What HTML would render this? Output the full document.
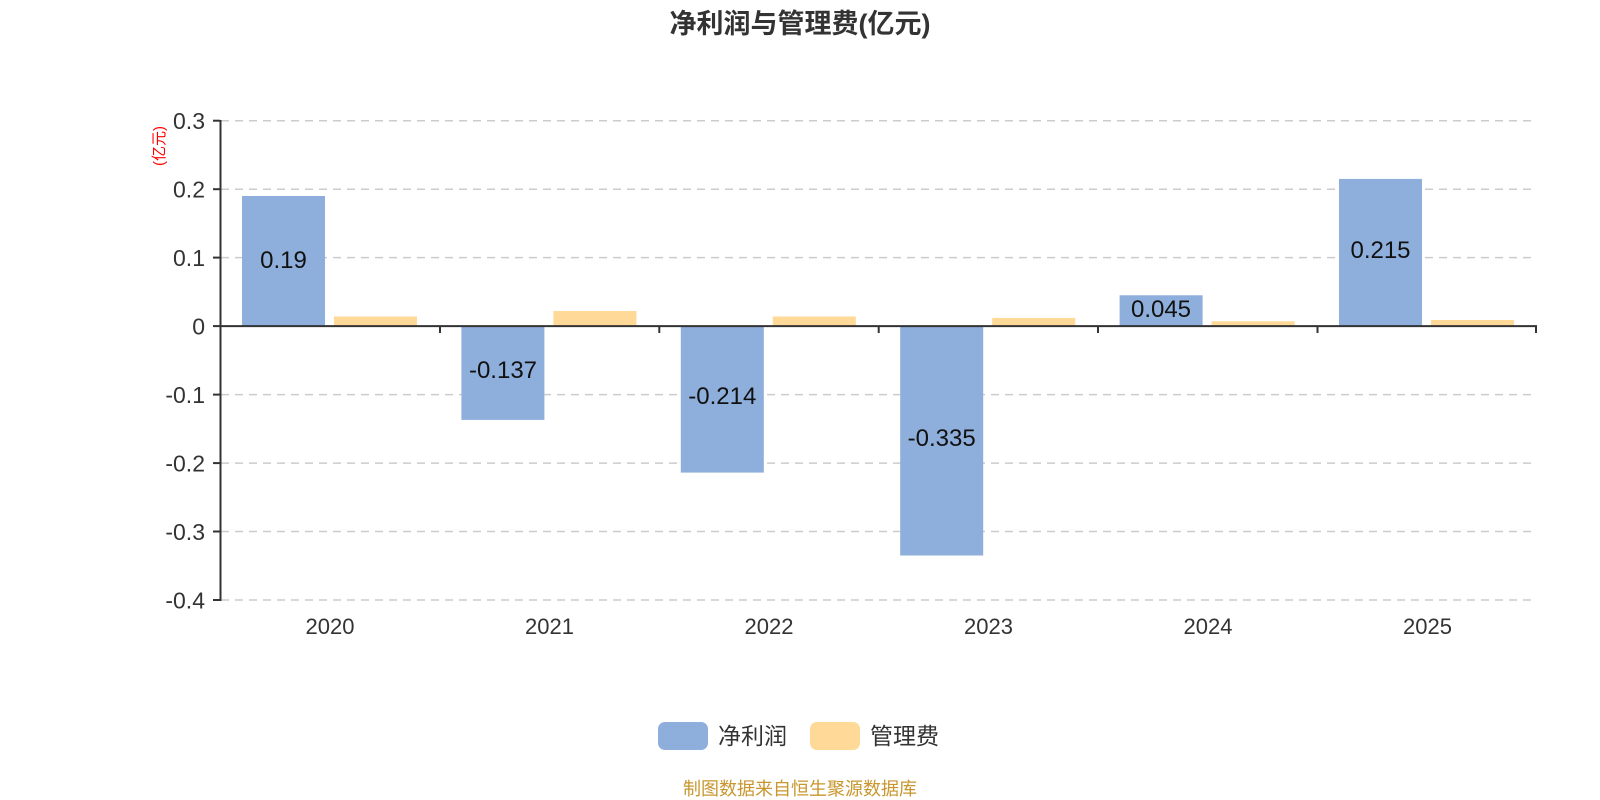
<!DOCTYPE html>
<html><head><meta charset="utf-8"><style>
html,body{margin:0;padding:0;background:#fff;}
svg{display:block;font-family:"Liberation Sans","Noto Sans CJK SC",sans-serif;}
</style></head><body>
<svg width="1600" height="800" viewBox="0 0 1600 800" xmlns="http://www.w3.org/2000/svg">
<text x="800" y="33" text-anchor="middle" font-size="27" font-weight="bold" fill="#333">净利润与管理费(亿元)</text>
<g stroke="#ccc" stroke-width="1.5" stroke-dasharray="8,6">
<line x1="221" y1="120.7" x2="1537" y2="120.7"/>
<line x1="221" y1="189.2" x2="1537" y2="189.2"/>
<line x1="221" y1="257.6" x2="1537" y2="257.6"/>
<line x1="221" y1="394.6" x2="1537" y2="394.6"/>
<line x1="221" y1="463.1" x2="1537" y2="463.1"/>
<line x1="221" y1="531.5" x2="1537" y2="531.5"/>
<line x1="221" y1="600" x2="1537" y2="600"/>
</g>
<g fill="#8eaedb">
<rect x="242" y="196" width="83" height="130.1"/>
<rect x="461.4" y="326.1" width="83" height="93.8"/>
<rect x="680.8" y="326.1" width="83" height="146.5"/>
<rect x="900.2" y="326.1" width="83" height="229.4"/>
<rect x="1119.6" y="295.3" width="83" height="30.8"/>
<rect x="1339" y="178.9" width="83" height="147.2"/>
</g>
<g fill="#fed998">
<rect x="334" y="316.5" width="83" height="9.6"/>
<rect x="553.4" y="311" width="83" height="15.1"/>
<rect x="772.8" y="316.5" width="83" height="9.6"/>
<rect x="992.2" y="317.9" width="83" height="8.2"/>
<rect x="1211.6" y="321.3" width="83" height="4.8"/>
<rect x="1431" y="320" width="83" height="6.1"/>
</g>
<g stroke="#333" stroke-width="2">
<line x1="220.5" y1="120" x2="220.5" y2="601"/>
<line x1="220" y1="326.1" x2="1537" y2="326.1"/>
<line x1="213" y1="120.7" x2="220" y2="120.7"/>
<line x1="213" y1="189.2" x2="220" y2="189.2"/>
<line x1="213" y1="257.6" x2="220" y2="257.6"/>
<line x1="213" y1="326.1" x2="220" y2="326.1"/>
<line x1="213" y1="394.6" x2="220" y2="394.6"/>
<line x1="213" y1="463.1" x2="220" y2="463.1"/>
<line x1="213" y1="531.5" x2="220" y2="531.5"/>
<line x1="213" y1="600" x2="220" y2="600"/>
<line x1="440" y1="326" x2="440" y2="333"/>
<line x1="659.3" y1="326" x2="659.3" y2="333"/>
<line x1="878.7" y1="326" x2="878.7" y2="333"/>
<line x1="1098" y1="326" x2="1098" y2="333"/>
<line x1="1317.5" y1="326" x2="1317.5" y2="333"/>
<line x1="1536" y1="326" x2="1536" y2="333"/>
</g>
<g font-size="23" fill="#333" text-anchor="end">
<text x="205" y="129">0.3</text>
<text x="205" y="197.5">0.2</text>
<text x="205" y="266">0.1</text>
<text x="205" y="334.5">0</text>
<text x="205" y="403">-0.1</text>
<text x="205" y="471.5">-0.2</text>
<text x="205" y="540">-0.3</text>
<text x="205" y="608.5">-0.4</text>
</g>
<text transform="translate(164,146) rotate(-90)" text-anchor="middle" font-size="15" fill="#f00">(亿元)</text>
<g font-size="22" fill="#333" text-anchor="middle">
<text x="330" y="634">2020</text>
<text x="549.5" y="634">2021</text>
<text x="769" y="634">2022</text>
<text x="988.5" y="634">2023</text>
<text x="1208" y="634">2024</text>
<text x="1427.5" y="634">2025</text>
</g>
<g font-size="24" fill="#111" text-anchor="middle">
<text x="283.5" y="268">0.19</text>
<text x="503" y="378">-0.137</text>
<text x="722.3" y="404">-0.214</text>
<text x="941.7" y="446">-0.335</text>
<text x="1161" y="317">0.045</text>
<text x="1380.5" y="258">0.215</text>
</g>
<rect x="658" y="722" width="50" height="28" rx="7" fill="#8eaedb"/>
<text x="718" y="744" font-size="23" fill="#333">净利润</text>
<rect x="810" y="722" width="50" height="28" rx="7" fill="#fed998"/>
<text x="870" y="744" font-size="23" fill="#333">管理费</text>
<text x="800" y="795" text-anchor="middle" font-size="18" fill="#c8962d">制图数据来自恒生聚源数据库</text>
</svg>
</body></html>
